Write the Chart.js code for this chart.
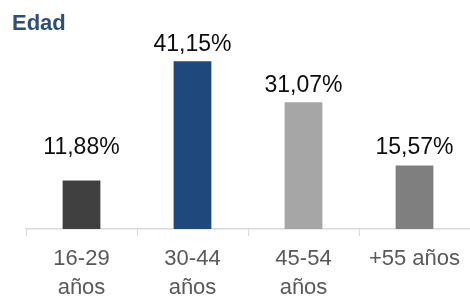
<!DOCTYPE html>
<html>
<head>
<meta charset="utf-8">
<script src="https://cdn.jsdelivr.net/npm/chart.js@4"></script>
<style>
  html, body { margin: 0; padding: 0; background: #fff; }
  #wrap { width: 470px; height: 296px; }
</style>
</head>
<body>
<div id="wrap"><canvas id="myChart"></canvas></div>
<script>
// age groups and their share
const categories = [['16-29', 'años'], ['30-44', 'años'], ['45-54', 'años'], '+55 años']
const shares = [11.88, 41.15, 31.07, 15.57]
const barColors = ['#404040', '#1F497D', '#A6A6A6', '#7F7F7F']
// small bars get their label lifted to this level
const LABEL_FLOOR = 16

// writes the value on top of each bar
const valueLabels = {
  id: 'valueLabels',
  afterDatasetsDraw(chart) {
    const ctx = chart.ctx
    const yScale = chart.scales.y
    const meta = chart.getDatasetMeta(0)
    ctx.save()
    ctx.font = '23px "Liberation Sans", Arial, sans-serif'
    ctx.fillStyle = '#0D0D0D'
    ctx.textAlign = 'center'
    ctx.textBaseline = 'alphabetic'
    meta.data.forEach(function (bar, i) {
      const v = shares[i]
      const y = yScale.getPixelForValue(Math.max(v, LABEL_FLOOR)) - 10
      ctx.fillText(v.toFixed(2).replace('.', ',') + '%', bar.x, y)
    })
    ctx.restore()
  }
}

function drawChart() {
  var ctx = document.getElementById('myChart').getContext('2d')
  var chart = new Chart(ctx, {
    type: 'bar',
    data: {
      labels: categories,
      datasets: [{
        data: shares,
        backgroundColor: barColors,
        barPercentage: 0.34,
        categoryPercentage: 1
      }]
    },
    options: {
      responsive: true,
      maintainAspectRatio: false,
      animation: false,
      layout: { padding: { left: 12, right: 0, top: 0, bottom: 0 } },
      plugins: {
        legend: { display: false },
        tooltip: { enabled: false },
        title: {
          display: true,
          text: 'Edad',
          align: 'start',
          color: '#2E4D7B',
          font: { family: '"Liberation Sans", Arial, sans-serif', size: 22, weight: 'bold' },
          padding: { top: 11, bottom: 0 }
        }
      },
      scales: {
        x: {
          grid: { display: true, drawOnChartArea: false, color: '#D9D9D9', tickLength: 7, offset: true },
          border: { color: '#D9D9D9', width: 1.5 },
          ticks: {
            color: '#595959',
            padding: 9,
            maxRotation: 0,
            autoSkip: false,
            font: { family: '"Liberation Sans", Arial, sans-serif', size: 22, lineHeight: 1.3 }
          },
          afterFit: function (scale) { scale.height = 67 }
        },
        y: {
          min: 0,
          max: 47,
          ticks: { display: false },
          grid: { display: false },
          border: { display: false },
          afterFit: function (scale) { scale.width = 14 }
        }
      }
    },
    plugins: [valueLabels]
  })
}

drawChart()
</script>
</body>
</html>
